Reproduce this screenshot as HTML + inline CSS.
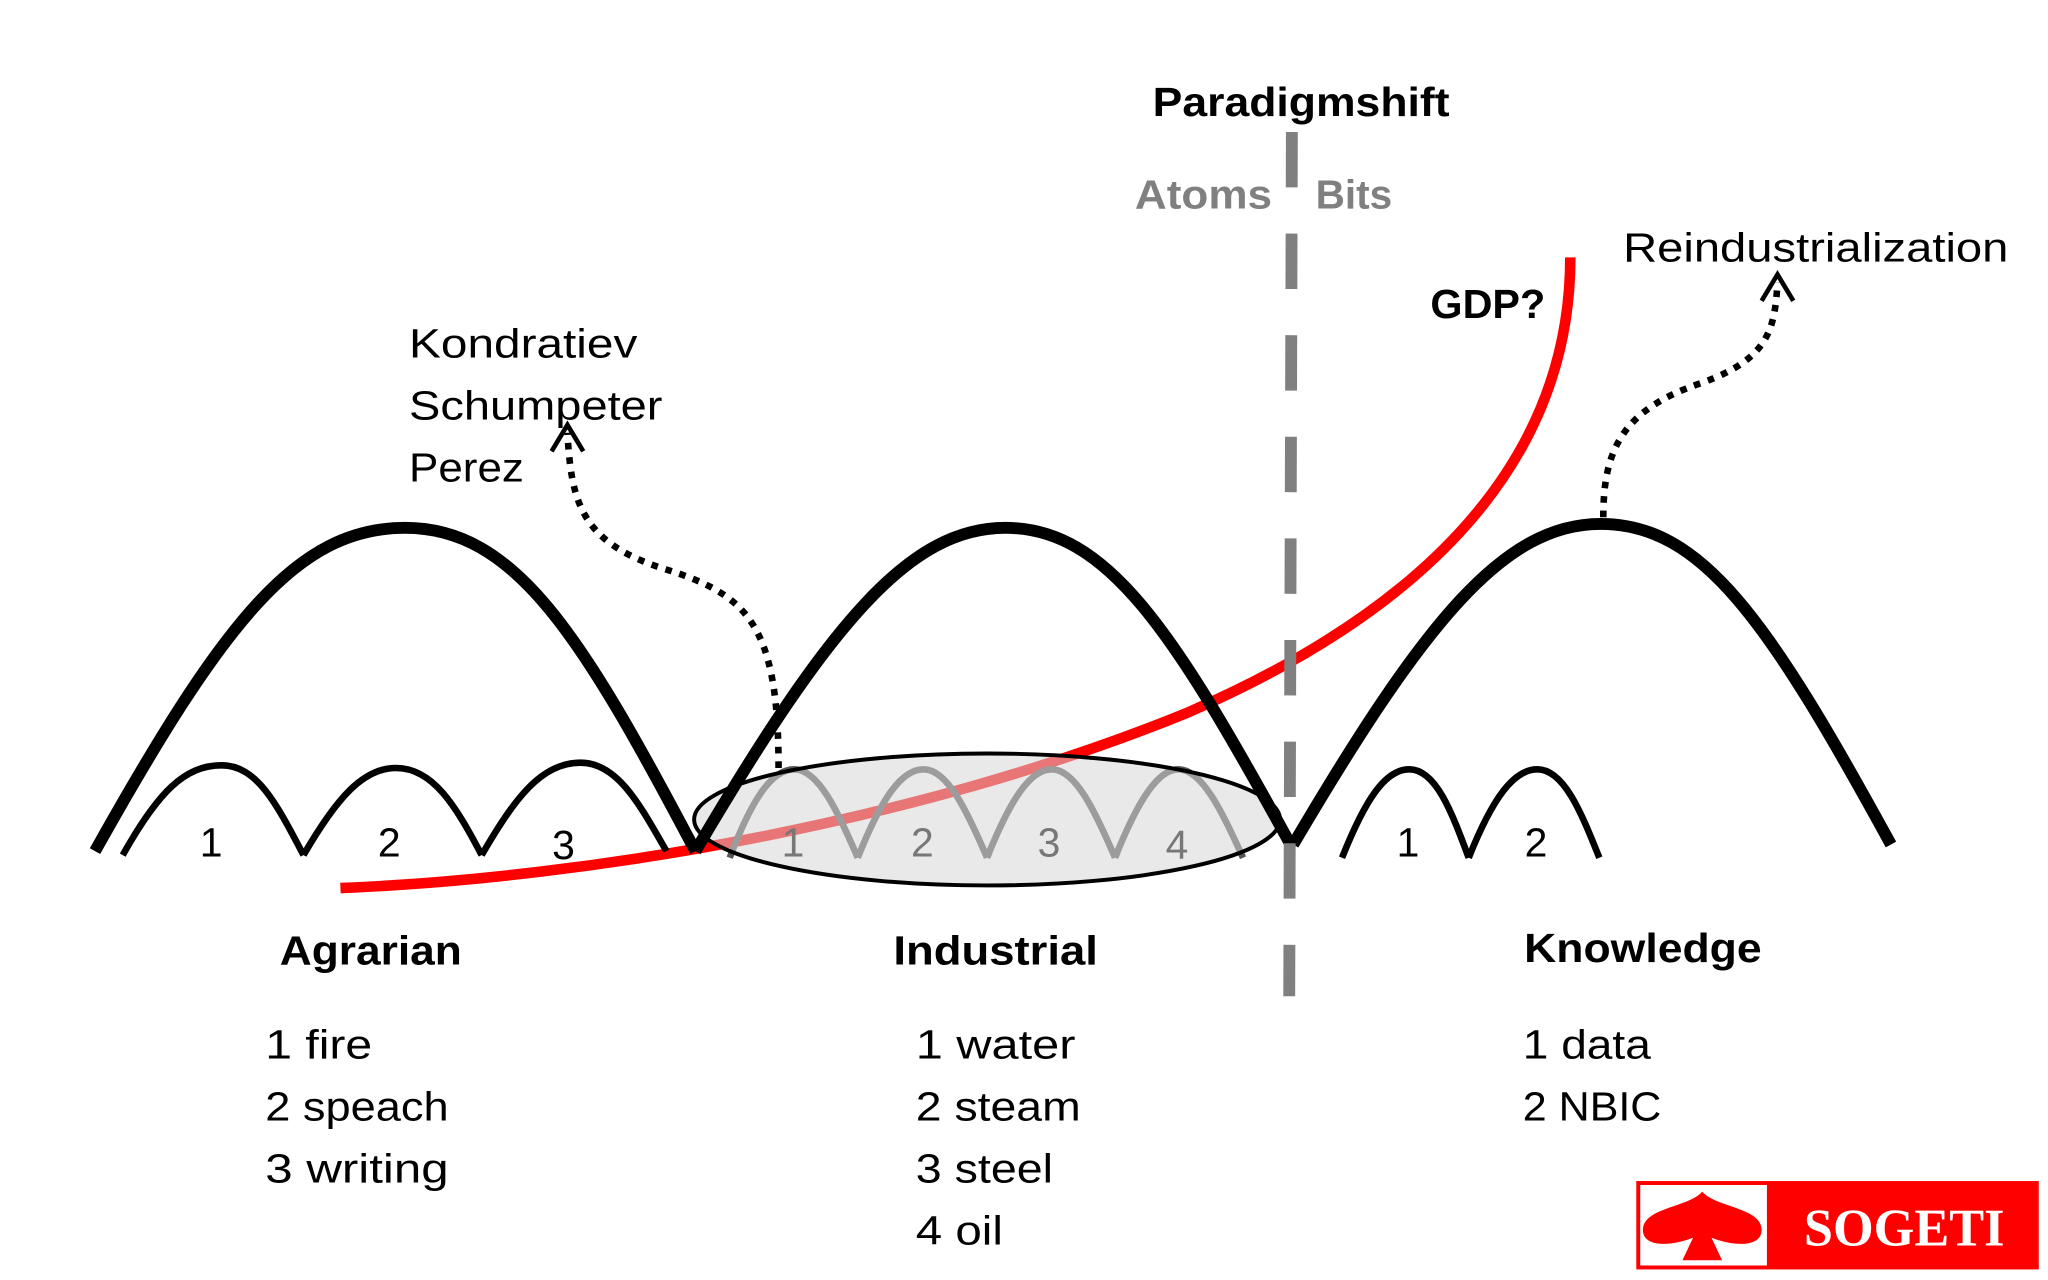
<!DOCTYPE html>
<html><head><meta charset="utf-8"><style>
html,body{margin:0;padding:0;background:#fff;}
svg{display:block;}
text{font-family:"Liberation Sans",sans-serif;}
</style></head><body>
<svg width="2048" height="1280" viewBox="0 0 1552 970" preserveAspectRatio="none" xmlns="http://www.w3.org/2000/svg">
<rect width="1552" height="970" fill="#fff"/>

<path d="M258,673 C450,665 700,622 900,540 C1080,462 1190,350 1190,195" fill="none" stroke="#f00" stroke-width="8"/>

<g fill="none" stroke="#000" stroke-width="5">
<path d="M93,648 C120,600 140,580 168,580 C195,580 210,610 230,648"/>
<path d="M230,648 C255,605 275,582 300,582 C328,582 345,610 365,648"/>
<path d="M365,648 C390,605 410,578 440,578 C468,578 485,610 505,645"/>
</g>
<g fill="none" stroke="#555" stroke-width="5">
<path d="M553,650 C570,605 585,583 602,583 C620,583 635,615 650,650"/>
<path d="M650,650 C668,605 683,583 700,583 C718,583 733,615 748,650"/>
<path d="M748,650 C766,605 781,583 797,583 C815,583 830,615 845,650"/>
<path d="M845,650 C863,605 878,583 893,583 C911,583 926,615 942,650"/>
</g>
<g fill="none" stroke="#000" stroke-width="5">
<path d="M1017,650 C1035,605 1050,583 1068,583 C1088,583 1100,615 1113,650"/>
<path d="M1113,650 C1131,605 1147,583 1165,583 C1185,583 1198,615 1212,650"/>
</g>

<ellipse cx="748" cy="621" rx="222" ry="50" fill="rgba(215,215,215,0.55)" stroke="#000" stroke-width="3"/>

<g fill="none" stroke="#000" stroke-width="9">
<path d="M72,645 C170,470 225,400 307,400 C390,400 440,480 527,645"/>
<path d="M527,645 C630,470 690,400 762,400 C840,400 890,480 978,640"/>
<path d="M980,640 C1080,470 1140,397 1213,397 C1290,397 1340,470 1433,640"/>
</g>

<g font-size="31" text-anchor="middle">
<text x="160" y="649" fill="#000">1</text><text x="295" y="649" fill="#000">2</text><text x="427" y="651" fill="#000">3</text>
<text x="601" y="649" fill="#777">1</text><text x="699" y="649" fill="#777">2</text><text x="795" y="649" fill="#777">3</text><text x="892" y="651" fill="#777">4</text>
<text x="1067" y="649" fill="#000">1</text><text x="1164" y="649" fill="#000">2</text>
</g>

<line x1="979" y1="100" x2="977" y2="755" stroke="#808080" stroke-width="9" stroke-dasharray="42 35"/>

<g fill="none" stroke="#000" stroke-width="5">
<path d="M590,582 C590,470 565,450 500,430 C440,410 433,380 430,328" stroke-dasharray="5 6"/>
<path d="M418,342 L430,322 L442,342" stroke-width="3.5"/>
</g>
<g fill="none" stroke="#000" stroke-width="5">
<path d="M1215,392 C1215,340 1230,310 1290,290 C1340,272 1345,250 1347,214" stroke-dasharray="5 6"/>
<path d="M1335,228 L1347,208 L1359,228" stroke-width="3.5"/>
</g>

<text x="986" y="88" font-size="31" font-weight="bold" text-anchor="middle" textLength="225" lengthAdjust="spacingAndGlyphs">Paradigmshift</text>
<text x="860" y="158" font-size="31" font-weight="bold" fill="#808080" textLength="104" lengthAdjust="spacingAndGlyphs">Atoms</text>
<text x="997" y="158" font-size="31" font-weight="bold" fill="#808080" textLength="58" lengthAdjust="spacingAndGlyphs">Bits</text>
<text x="1230" y="198" font-size="31" textLength="292" lengthAdjust="spacingAndGlyphs">Reindustrialization</text>
<text x="1084" y="241" font-size="31" font-weight="bold" textLength="87" lengthAdjust="spacingAndGlyphs">GDP?</text>
<g font-size="31">
<text x="310" y="271" textLength="173" lengthAdjust="spacingAndGlyphs">Kondratiev</text>
<text x="310" y="318" textLength="192" lengthAdjust="spacingAndGlyphs">Schumpeter</text>
<text x="310" y="365" textLength="87" lengthAdjust="spacingAndGlyphs">Perez</text>
</g>
<g font-size="31" font-weight="bold">
<text x="212" y="731" textLength="138" lengthAdjust="spacingAndGlyphs">Agrarian</text>
<text x="677" y="731" textLength="155" lengthAdjust="spacingAndGlyphs">Industrial</text>
<text x="1155" y="729" textLength="180" lengthAdjust="spacingAndGlyphs">Knowledge</text>
</g>
<g font-size="31">
<text x="201" y="802" textLength="81" lengthAdjust="spacingAndGlyphs">1 fire</text>
<text x="201" y="849" textLength="139" lengthAdjust="spacingAndGlyphs">2 speach</text>
<text x="201" y="896" textLength="139" lengthAdjust="spacingAndGlyphs">3 writing</text>
</g>
<g font-size="31">
<text x="694" y="802" textLength="121" lengthAdjust="spacingAndGlyphs">1 water</text>
<text x="694" y="849" textLength="125" lengthAdjust="spacingAndGlyphs">2 steam</text>
<text x="694" y="896" textLength="104" lengthAdjust="spacingAndGlyphs">3 steel</text>
<text x="694" y="943" textLength="66" lengthAdjust="spacingAndGlyphs">4 oil</text>
</g>
<g font-size="31">
<text x="1154" y="802" textLength="97" lengthAdjust="spacingAndGlyphs">1 data</text>
<text x="1154" y="849" textLength="105" lengthAdjust="spacingAndGlyphs">2 NBIC</text>
</g>

<g>
<rect x="1240" y="895" width="305" height="67" fill="#f00"/>
<rect x="1243" y="898" width="96" height="61" fill="#fff"/>
<path d="M1290,903 C1300,915 1335,915 1335,932 C1335,945 1315,945 1297,938 L1305,955 L1275,955 L1283,938 C1265,945 1245,945 1245,932 C1245,915 1280,915 1290,903 Z" fill="#f00"/>
<text x="1367" y="944" style="font-family:'Liberation Serif',serif;" font-size="40" font-weight="bold" fill="#fff" textLength="152" lengthAdjust="spacingAndGlyphs">SOGETI</text>
</g>
</svg>
</body></html>
